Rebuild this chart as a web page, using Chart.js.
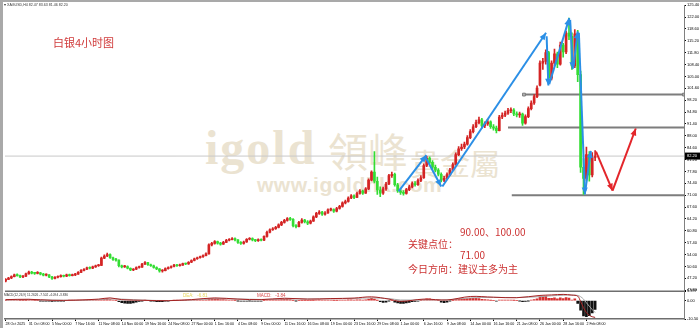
<!DOCTYPE html>
<html>
<head>
<meta charset="utf-8">
<script src="https://cdn.jsdelivr.net/npm/chart.js@4.4.1/dist/chart.umd.min.js"></script>
<style>
    body { margin: 0; background: #fff; }
    #frame { position: relative; width: 700px; height: 328px; overflow: hidden; background: #fff; }
    #silverChart { position: absolute; left: 0; top: 0; z-index: 1; }
    .wm { position: absolute; z-index: 0; color: #ebe3d1; white-space: nowrap; }
    .txt { position: absolute; z-index: 2; white-space: nowrap; }
    .cn { font-family: "Noto Sans CJK SC"; color: #cc3333; font-size: 10px; line-height: 10px; }
    .tiny { font-family: "Liberation Sans"; line-height: 5px; }
</style>
</head>
<body>
<div id="frame">
    <div class="wm" style="left:205px;top:124px;font:bold 48px/48px 'Liberation Serif';letter-spacing:2px;">igold</div>
    <div class="wm" style="left:328px;top:130px;font:40px/40px 'Noto Sans CJK TC';">領峰</div>
    <div class="wm" style="left:410px;top:147px;font:30px/30px 'Noto Sans CJK TC';">貴金屬</div>
    <div class="wm" style="left:257px;top:174px;font:bold 21px/21px 'Liberation Sans';letter-spacing:0.5px;">www.igoldhk.com</div>

    <canvas id="silverChart" width="700" height="328"></canvas>

    <div class="txt tiny" style="left:4px;top:3px;font-size:3.6px;color:#333;">▾ XAGUSD,H4 82.47 83.63 81.46 82.20</div>
    <div class="txt cn" style="left:53px;top:37px;font-size:11px;line-height:11px;color:#d03a3a;">白银4小时图</div>
    <div class="txt cn" style="left:460px;top:227px;">90.00、100.00</div>
    <div class="txt cn" style="left:408px;top:239px;">关键点位：</div>
    <div class="txt cn" style="left:460px;top:250px;">71.00</div>
    <div class="txt cn" style="left:408px;top:264px;">今日方向：建议主多为主</div>
    <div class="txt tiny" style="left:4px;top:293px;font-size:3.2px;color:#333;">MACD(12,26,9) 11.2626 -7.502 -4.094 -3.836</div>
    <div class="txt tiny" style="left:183px;top:293px;font-size:4.5px;color:#e6d45a;">DEA:&nbsp;&nbsp;&nbsp;-6.81</div>
    <div class="txt tiny" style="left:257px;top:293px;font-size:4.5px;color:#d84848;">MACD:&nbsp;&nbsp;&nbsp;-3.84</div>

    <div style="position:absolute;left:0;top:0;width:3px;height:328px;background:#a9a9a9;z-index:3;"></div>
    <div style="position:absolute;left:0;top:0;width:700px;height:2px;background:#a9a9a9;z-index:3;"></div>
</div>

<script>
    // 8시간 단위 캔들 (4시간봉 2개씩)
    const dateLabels = ['28 Oct 2025', '31 Oct 08:00', '5 Nov 00:00', '7 Nov 16:00', '11 Nov 08:00', '14 Nov 00:00',
        '19 Nov 16:00', '24 Nov 08:00', '27 Nov 00:00', '1 Dec 16:00', '4 Dec 08:00', '9 Dec 00:00', '11 Dec 16:00',
        '16 Dec 08:00', '19 Dec 00:00', '23 Dec 16:00', '29 Dec 08:00', '1 Jan 00:00', '6 Jan 16:00', '9 Jan 08:00',
        '14 Jan 00:00', '16 Jan 16:00', '21 Jan 08:00', '26 Jan 00:00', '28 Jan 16:00', '2 Feb 08:00'];

    const priceTicks = [43.8, 47.2, 50.6, 54.0, 57.4, 60.8, 64.2, 67.6, 71.0, 74.4, 77.8, 81.2, 84.6, 88.0,
        91.4, 94.8, 98.2, 101.6, 105.0, 108.4, 111.8, 115.2, 118.6, 122.0, 125.4];
    const macdTicks = [-10.5, 0, 5.397];
    const macdTickLabels = ['-10.50', '0.00', '5.397'];

    const opens = [46.4,46.9,47.3,47.7,48.2,48.0,47.6,47.8,48.5,49.0,
        48.7,48.6,48.8,48.4,48.1,48.2,47.6,47.2,47.5,47.7,
        47.9,47.8,48.2,48.0,48.2,48.4,48.9,49.5,49.8,50.2,
        50.1,50.5,50.8,50.9,53.0,53.6,54.0,53.1,52.6,52.4,
        50.8,50.5,50.6,50.1,49.6,49.8,50.3,50.4,51.3,51.7,
        51.1,50.8,50.3,49.9,49.3,49.4,50.0,50.3,50.6,51.0,
        50.8,51.0,51.4,51.3,51.8,52.3,52.8,53.1,53.4,53.7,
        54.2,56.8,57.2,57.7,57.3,57.0,57.5,58.1,58.3,58.6,
        58.2,57.5,57.2,57.6,58.4,58.6,58.2,58.0,58.3,58.1,
        59.2,60.4,61.1,61.4,61.8,62.5,63.2,63.8,64.3,64.1,
        62.3,62.0,63.2,63.9,63.4,63.0,63.6,64.8,65.8,66.2,
        65.6,65.9,66.8,66.9,66.4,67.2,67.8,68.8,69.2,70.2,
        70.8,70.4,71.5,72.2,71.6,72.8,75.3,77.6,75.0,72.5,
        71.6,72.8,74.2,76.6,77.0,74.0,72.2,71.8,71.5,72.6,
        73.4,74.3,74.0,75.2,76.0,79.5,81.6,80.4,79.0,78.2,
        77.0,75.3,75.8,76.9,78.2,79.8,82.6,84.3,84.8,85.6,
        87.5,89.2,90.6,91.8,92.6,90.8,91.4,92.0,90.6,90.2,
        89.5,93.4,93.9,94.5,95.2,95.4,94.3,94.0,94.2,91.6,
        93.5,95.8,97.4,99.2,102.5,108.8,109.3,111.8,104.5,108.8,
        111.5,108.5,114.0,112.0,117.4,116.5,108.0,117.2,105.5,79.0,
        75.8,82.6,76.8,81.8];

    const highs = [47.1,47.5,47.9,48.4,48.5,48.1,48.0,48.7,49.3,49.2,
        48.9,49.1,48.9,48.6,48.5,48.3,47.8,47.7,47.9,48.2,
        48.1,48.4,48.4,48.4,48.6,49.1,49.7,50.0,50.4,50.5,
        50.7,51.0,51.2,53.3,53.9,54.4,54.2,53.3,52.9,52.5,
        51.0,50.9,50.8,50.2,50.0,50.5,50.7,51.5,52.0,51.8,
        51.3,51.0,50.5,50.0,49.7,50.2,50.5,50.8,51.2,51.2,
        51.3,51.6,51.6,52.0,52.5,53.0,53.3,53.6,53.9,54.5,
        57.1,57.5,58.0,57.9,57.5,57.8,58.4,58.6,58.9,58.8,
        58.3,57.7,57.9,58.6,58.9,58.8,58.4,58.5,58.5,59.4,
        60.7,61.4,61.7,62.1,62.8,63.5,64.1,64.6,64.7,64.3,
        62.6,63.5,64.3,64.1,63.7,63.9,65.1,66.1,66.6,66.4,
        66.3,67.1,67.3,67.1,67.5,68.1,69.1,69.6,70.5,71.2,
        71.1,71.9,72.6,72.5,73.2,75.7,78.0,83.5,76.2,73.4,
        73.3,74.7,77.0,77.6,77.3,74.4,72.8,72.3,73.0,73.9,
        74.8,74.9,75.7,76.6,80.0,82.1,82.0,80.9,79.6,78.6,
        77.4,76.4,77.4,78.7,80.3,83.1,84.9,85.6,86.2,88.1,
        89.8,91.2,92.5,93.4,93.0,92.0,92.7,92.3,91.2,90.8,
        93.9,94.6,95.1,95.9,96.0,95.8,94.9,94.8,94.5,94.0,
        96.3,98.0,99.8,102.3,109.5,110.2,112.6,112.2,109.5,112.8,
        112.0,114.8,114.5,118.0,121.7,117.5,118.4,118.2,106.5,81.5,
        84.8,83.5,83.2,83.8];

    const lows = [46.2,46.8,47.1,47.6,47.8,47.4,47.4,47.7,48.4,48.5,
        48.3,48.5,48.2,47.9,47.9,47.4,46.9,47.0,47.3,47.5,
        47.6,47.7,47.8,47.9,48.0,48.3,48.8,49.3,49.7,49.9,
        50.0,50.3,50.6,50.8,52.8,53.4,52.9,52.3,52.1,50.5,
        50.2,50.3,49.9,49.4,49.4,49.7,50.1,50.3,51.1,50.9,
        50.6,50.1,49.7,49.0,49.0,49.3,49.8,50.1,50.5,50.6,
        50.7,50.9,51.1,51.2,51.7,52.2,52.6,53.0,53.2,53.6,
        54.1,56.5,57.0,57.0,56.7,56.9,57.4,57.9,58.2,57.9,
        57.2,56.9,57.0,57.5,58.2,57.9,57.7,57.8,57.9,58.0,
        59.0,60.2,60.9,61.2,61.6,62.3,63.0,63.6,63.8,61.9,
        61.6,61.9,63.0,63.1,62.6,62.8,63.5,64.6,65.5,65.2,
        65.3,65.8,66.5,66.1,66.2,67.0,67.6,68.5,69.0,70.0,
        70.0,70.3,71.3,71.2,71.5,72.6,75.1,74.5,71.2,70.6,
        71.2,72.4,74.0,76.1,73.6,71.8,71.2,71.0,71.3,72.3,
        73.1,73.6,73.8,74.9,75.8,79.2,79.9,78.5,77.7,76.5,
        74.8,74.9,75.5,76.6,78.0,79.6,82.3,83.8,84.3,85.3,
        87.2,88.8,90.3,91.4,90.2,90.3,91.0,90.1,89.6,88.8,
        89.4,92.9,93.5,94.1,94.6,93.8,93.4,93.3,91.0,91.3,
        93.2,95.4,97.0,98.9,102.3,107.0,108.5,103.3,104.0,108.0,
        107.5,108.2,110.5,111.5,115.5,107.0,107.5,103.5,77.5,71.2,
        75.2,75.0,76.2,80.9];

    const closes = [46.9,47.3,47.7,48.2,48.0,47.6,47.8,48.5,49.0,48.7,
        48.6,48.8,48.4,48.1,48.2,47.6,47.2,47.5,47.7,47.9,
        47.8,48.2,48.0,48.2,48.4,48.9,49.5,49.8,50.2,50.1,
        50.5,50.8,50.9,53.0,53.6,54.0,53.1,52.6,52.4,50.8,
        50.5,50.6,50.1,49.6,49.8,50.3,50.4,51.3,51.7,51.1,
        50.8,50.3,49.9,49.3,49.4,50.0,50.3,50.6,51.0,50.8,
        51.0,51.4,51.3,51.8,52.3,52.8,53.1,53.4,53.7,54.2,
        56.8,57.2,57.7,57.3,57.0,57.5,58.1,58.3,58.6,58.2,
        57.5,57.2,57.6,58.4,58.6,58.2,58.0,58.3,58.1,59.2,
        60.4,61.1,61.4,61.8,62.5,63.2,63.8,64.3,64.1,62.3,
        62.0,63.2,63.9,63.4,63.0,63.6,64.8,65.8,66.2,65.6,
        65.9,66.8,66.9,66.4,67.2,67.8,68.8,69.2,70.2,70.8,
        70.4,71.5,72.2,71.6,72.8,75.3,77.6,75.0,72.5,71.6,
        72.8,74.2,76.6,77.0,74.0,72.2,71.8,71.5,72.6,73.4,
        74.3,74.0,75.2,76.0,79.5,81.6,80.4,79.0,78.2,77.0,
        75.3,75.8,76.9,78.2,79.8,82.6,84.3,84.8,85.6,87.5,
        89.2,90.6,91.8,92.6,90.8,91.4,92.0,90.6,90.2,89.5,
        93.4,93.9,94.5,95.2,95.4,94.3,94.0,94.2,91.6,93.5,
        95.8,97.4,99.2,101.7,108.8,109.3,111.8,104.5,108.8,111.5,
        108.5,114.0,112.0,117.4,116.5,108.0,117.2,105.5,79.0,75.8,
        82.6,76.8,81.8,82.2];

    // MACD 히스토그램 (캔들마다)
    const macdHist = [0.2,0.3,0.3,0.4,0.3,0.2,0.1,0.2,0.3,0.3,
        0.1,0,-0.1,-0.2,-0.2,-0.3,-0.4,-0.3,-0.2,-0.1,
        -0.1,0,0.1,0.1,0.2,0.3,0.4,0.4,0.5,0.4,
        0.4,0.3,0.4,0.8,1.0,1.0,0.7,0.4,0.2,-0.6,
        -1.2,-1.4,-1.5,-1.5,-1.3,-0.8,-0.4,-0.1,0.1,0,
        -0.2,-0.3,-0.5,-0.6,-0.5,-0.3,-0.2,0,0.1,0.1,
        0.1,0.2,0.2,0.3,0.3,0.4,0.4,0.4,0.4,0.5,
        1.0,1.1,1.1,0.9,0.7,0.6,0.5,0.4,0.4,0.2,
        -0.1,-0.3,-0.3,-0.2,-0.1,-0.2,-0.3,-0.3,-0.3,0,
        0.3,0.5,0.6,0.6,0.7,0.8,0.8,0.8,0.7,0.2,
        -0.1,0,0.1,0.1,0,0,0.2,0.4,0.5,0.3,
        0.3,0.3,0.3,0.2,0.2,0.3,0.4,0.4,0.5,0.5,
        0.4,0.5,0.5,0.4,0.5,0.9,1.3,0.9,0.2,-0.6,
        -1.0,-0.8,-0.1,0,-0.8,-1.3,-1.6,-1.6,-1.3,-1.0,
        -0.5,-0.4,-0.2,0,0.7,1.1,1.0,0.7,0.4,0.1,
        -0.9,-1.2,-0.9,-0.1,0.2,0.8,1.1,1.1,1.1,1.2,
        1.3,1.3,1.3,1.2,0.8,0.6,0.5,0.2,0,-0.2,
        0.3,0.4,0.4,0.4,0.3,0.1,0,-0.1,-0.5,-0.4,
        -0.1,0.3,0.6,1.0,2.2,2.4,2.6,1.3,1.4,1.6,
        1.1,1.6,1.2,1.8,1.5,0.3,1.0,-1.5,-5.5,-8.8,
        -9.2,-8.6,-7.0,-5.0];

    // DIF / DEA 선 (캔들 번호별)
    const macdAt = [0,8,16,24,32,36,40,48,56,64,72,80,88,96,104,112,120,126,132,136,
        144,152,160,168,176,184,188,192,195,197,198,199,200,201,202,203];
    const difLine = [0.6,0.8,0.2,0.3,0.9,1.6,0.6,0.2,0.0,0.6,1.6,0.9,0.6,1.4,0.9,1.2,1.5,2.2,0.9,-0.4,
        0.9,0.4,2.4,2.0,1.7,3.0,3.3,3.6,3.2,2.6,-0.5,-4.0,-6.8,-8.4,-9.2,-9.6];
    const deaLine = [0.4,0.6,0.4,0.2,0.6,1.0,0.9,0.3,0.1,0.4,1.1,1.0,0.7,1.0,1.0,1.1,1.3,1.6,1.2,0.4,
        0.5,0.5,1.6,1.9,1.8,2.3,2.8,3.1,3.2,3.0,2.3,0.9,-1.2,-3.2,-5.1,-6.8];

    // 수평 지지/저항선 (가격, 시작 캔들)
    const levelPrices = [99.8, 90.4, 71.0];
    const levelStart = [178.5, 173.0, 174.3];

    // 파란 화살표 (캔들 번호, 가격)
    const blueFromX = [135.3, 144.5, 150.4, 186.3, 187.2, 194.4, 195.5, 197.4, 199.6];
    const blueFromY = [72.1, 82.0, 73.5, 116.5, 102.8, 121.2, 107.5, 117.5, 72.1];
    const blueToX = [144.9, 150.0, 186.1, 186.9, 194.1, 195.3, 197.0, 199.5, 201.5];
    const blueToY = [82.5, 73.5, 117.5, 102.4, 121.7, 107.1, 117.9, 71.2, 83.7];
    // 빨간 화살표 (예상 경로)
    const redFromX = [203.3, 209.0];
    const redFromY = [83.5, 72.3];
    const redToX = [209.0, 217.0];
    const redToY = [72.3, 90.1];

    const X_MIN = -0.2, X_MAX = 233.6;
    const UP = '#d42424', DOWN = '#33dd33';

    // 화살표 머리
    const arrowHeads = {
        id: 'arrowHeads',
        afterDatasetsDraw(chart) {
            const c = chart.ctx;
            chart.data.datasets.forEach((ds, i) => {
                if (!ds.arrow) return;
                const pts = chart.getDatasetMeta(i).data;
                const a = pts[0], b = pts[1];
                const ang = Math.atan2(b.y - a.y, b.x - a.x);
                const len = 7, half = 3;
                c.save();
                c.fillStyle = ds.borderColor;
                c.beginPath();
                c.moveTo(b.x, b.y);
                c.lineTo(b.x - len * Math.cos(ang) + half * Math.sin(ang), b.y - len * Math.sin(ang) - half * Math.cos(ang));
                c.lineTo(b.x - len * Math.cos(ang) - half * Math.sin(ang), b.y - len * Math.sin(ang) + half * Math.cos(ang));
                c.closePath();
                c.fill();
                c.restore();
            });
        }
    };

    // 패널 구분선 + 현재가 박스
    const panelFrame = {
        id: 'panelFrame',
        afterDraw(chart) {
            const c = chart.ctx, area = chart.chartArea;
            const y = chart.scales.y, ym = chart.scales.ym;
            c.save();
            c.strokeStyle = '#6e6e6e';
            c.lineWidth = 1.5;
            c.beginPath();
            c.moveTo(area.left, ym.top);
            c.lineTo(area.right, ym.top);
            c.stroke();

            const last = closes[closes.length - 1];
            const py = y.getPixelForValue(last);
            c.fillStyle = '#000';
            c.fillRect(y.left + 1, py - 3.5, 16, 7);
            c.fillStyle = '#fff';
            c.font = '4px "Liberation Sans"';
            c.textBaseline = 'middle';
            c.fillText(last.toFixed(2), y.left + 3, py);
            c.restore();
        }
    };

    function makeLine(x0, y0, x1, y1, color, width, extra) {
        return Object.assign({
            type: 'line',
            data: [{x: x0, y: y0}, {x: x1, y: y1}],
            borderColor: color,
            borderWidth: width,
            pointRadius: 0,
            fill: false,
            yAxisID: 'y'
        }, extra || {});
    }

    function createSilverChart() {
        var ctx = document.getElementById('silverChart').getContext('2d');

        const candleColors = closes.map((c, i) => c >= opens[i] ? UP : DOWN);
        const datasets = [];

        // 현재가 라인
        datasets.push(makeLine(X_MIN, closes[closes.length - 1], X_MAX, closes[closes.length - 1], '#c8c8c8', 1, {order: 12}));

        // 지지/저항선
        levelPrices.forEach((p, i) => {
            datasets.push(makeLine(levelStart[i], p, X_MAX, p, '#7d7d7d', 2, {
                order: 11,
                pointRadius: i === 0 ? 2 : 0,
                pointStyle: 'rect',
                pointBackgroundColor: '#b4b4b4',
                pointBorderColor: '#7d7d7d',
                pointBorderWidth: 1
            }));
        });

        // 캔들 꼬리
        datasets.push({
            type: 'bar',
            data: lows.map((l, i) => ({x: i, y: [l, highs[i]]})),
            backgroundColor: candleColors,
            barThickness: 1,
            grouped: false,
            yAxisID: 'y',
            order: 9
        });
        // 캔들 몸통
        datasets.push({
            type: 'bar',
            data: opens.map((o, i) => ({x: i, y: [o, closes[i]]})),
            backgroundColor: candleColors,
            barThickness: 2,
            minBarLength: 1,
            grouped: false,
            yAxisID: 'y',
            order: 8
        });

        // 화살표
        blueFromX.forEach((x, i) => {
            datasets.push(makeLine(x, blueFromY[i], blueToX[i], blueToY[i], '#2b8fe6', 2, {arrow: true, order: 2}));
        });
        redFromX.forEach((x, i) => {
            datasets.push(makeLine(x, redFromY[i], redToX[i], redToY[i], '#e3262b', 2, {arrow: true, order: 1}));
        });

        // MACD
        datasets.push({
            type: 'bar',
            data: macdHist.map((v, i) => ({x: i, y: v})),
            backgroundColor: macdHist.map(v => v >= 0 ? '#d63030' : '#111111'),
            barThickness: 2,
            grouped: false,
            yAxisID: 'ym',
            order: 6
        });
        datasets.push({
            type: 'line',
            data: macdAt.map((x, i) => ({x: x, y: deaLine[i]})),
            borderColor: '#a8a8a8',
            borderWidth: 1,
            pointRadius: 0,
            tension: 0.35,
            yAxisID: 'ym',
            order: 5
        });
        datasets.push({
            type: 'line',
            data: macdAt.map((x, i) => ({x: x, y: difLine[i]})),
            borderColor: '#a52222',
            borderWidth: 1,
            pointRadius: 0,
            tension: 0.35,
            yAxisID: 'ym',
            order: 4
        });

        const tickFont = {size: 4, family: 'Liberation Sans'};
        const dateFont = {size: 3.6, family: 'Liberation Sans'};

        new Chart(ctx, {
            type: 'bar',
            data: {datasets: datasets},
            options: {
                responsive: false,
                animation: false,
                events: [],
                layout: {padding: {left: 3, top: 2, right: 0, bottom: 0}},
                plugins: {
                    legend: {display: false},
                    tooltip: {enabled: false}
                },
                scales: {
                    x: {
                        type: 'linear',
                        min: X_MIN,
                        max: X_MAX,
                        bounds: 'data',
                        offset: false,
                        grid: {offset: false, drawOnChartArea: false, tickLength: 2, color: '#000'},
                        border: {color: '#6e6e6e', width: 1.5},
                        afterBuildTicks: s => { s.ticks = dateLabels.map((t, k) => ({value: k * 8})); },
                        afterFit: s => { s.height = 9; },
                        ticks: {
                            autoSkip: false, maxRotation: 0, minRotation: 0, align: 'start',
                            padding: 1, font: dateFont, color: '#000',
                            callback: (v, i) => dateLabels[i]
                        }
                    },
                    y: {
                        position: 'right',
                        stack: 'pane',
                        stackWeight: 289,
                        min: 43.5,
                        max: 125.45,
                        bounds: 'data',
                        grid: {drawOnChartArea: false, tickLength: 2, color: '#000'},
                        border: {color: '#808080'},
                        afterBuildTicks: s => { s.ticks = priceTicks.map(v => ({value: v})); },
                        afterFit: s => { s.width = 16; },
                        ticks: {autoSkip: false, padding: 1, font: tickFont, color: '#000', callback: v => v.toFixed(2)}
                    },
                    ym: {
                        position: 'right',
                        stack: 'pane',
                        stackWeight: 28,
                        min: -10.5,
                        max: 5.4,
                        bounds: 'data',
                        grid: {drawOnChartArea: false, tickLength: 2, color: '#000'},
                        border: {color: '#808080'},
                        afterBuildTicks: s => { s.ticks = macdTicks.map(v => ({value: v})); },
                        afterFit: s => { s.width = 16; },
                        ticks: {autoSkip: false, padding: 1, font: tickFont, color: '#000', callback: (v, i) => macdTickLabels[i]}
                    }
                }
            },
            plugins: [arrowHeads, panelFrame]
        });
    }

    createSilverChart();
</script>
</body>
</html>
